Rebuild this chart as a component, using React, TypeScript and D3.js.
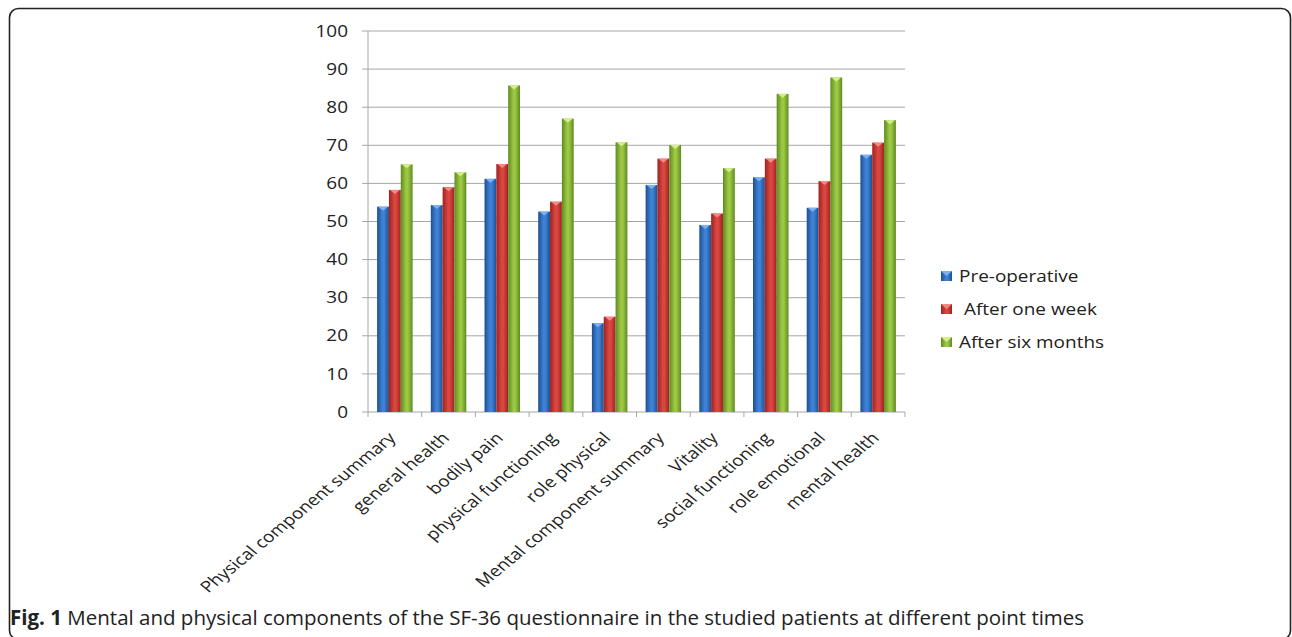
import React from "react";
import * as d3 from "d3";

const categories = [
  "Physical component summary",
  "general health",
  "bodily pain",
  "physical functioning",
  "role physical",
  "Mental component summary",
  "Vitality",
  "social functioning",
  "role emotional",
  "mental health",
];
const seriesNames = ["Pre-operative", " After one week", "After six months"];
const preOperative = [53.9, 54.3, 61.2, 52.6, 23.3, 59.6, 49.1, 61.6, 53.6, 67.5];
const afterOneWeek = [58.3, 59.0, 65.1, 55.2, 25.0, 66.5, 52.1, 66.5, 60.6, 70.7];
const afterSixMonths = [65.0, 62.9, 85.7, 77.0, 70.8, 70.1, 64.0, 83.5, 87.8, 76.6];
const yTicks = [0, 10, 20, 30, 40, 50, 60, 70, 80, 90, 100];

const W = 1292;
const H = 637;
const plot = { left: 368, right: 905, top: 31, bottom: 412 };

const palettes = [
  { edge: "#1d4f93", mid: "#3f82d4", cap: "#7fb2ec" },
  { edge: "#9c2222", mid: "#d9473f", cap: "#f08a82" },
  { edge: "#5f8a22", mid: "#9cc843", cap: "#d3ee8a" },
];

export default function App() {
  const series = [preOperative, afterOneWeek, afterSixMonths];
  const x0 = d3.scaleBand<string>().domain(categories).range([plot.left, plot.right]).paddingInner(0).paddingOuter(0);
  const groupW = 35.5;
  const x1 = d3.scaleBand<number>().domain([0, 1, 2]).range([0, groupW]).padding(0);
  const y = d3.scaleLinear().domain([0, 100]).range([plot.bottom, plot.top]);
  const font = "'Open Sans', 'DejaVu Sans', sans-serif";
  const fs = 16.2;
  const sx = 1.17;

  return (
    <svg width={W} height={H} style={{ position: "absolute", left: 0, top: 0, background: "#fff" }} fontFamily={font}>
      <defs>
        {palettes.map((p, i) => (
          <linearGradient key={i} id={`g${i}`} x1="0" x2="1" y1="0" y2="0">
            <stop offset="0" stopColor={p.edge} />
            <stop offset="0.45" stopColor={p.mid} />
            <stop offset="0.6" stopColor={p.mid} />
            <stop offset="1" stopColor={p.edge} />
          </linearGradient>
        ))}
      </defs>
      <rect x={9.5} y={8.5} width={1281} height={631} rx={9} fill="none" stroke="#222" strokeWidth={1.6} />

      {yTicks.map((t) => (
        <g key={t}>
          {t > 0 && <line x1={plot.left} x2={plot.right} y1={y(t)} y2={y(t)} stroke="#a6a6a6" strokeWidth={1} />}
          <line x1={plot.left - 6} x2={plot.left} y1={y(t)} y2={y(t)} stroke="#a6a6a6" strokeWidth={1} />
          <text
            transform={`translate(348 ${y(t)}) scale(${sx} 1)`}
            dy="0.35em"
            textAnchor="end"
            fontSize={fs}
            fill="#222"
          >
            {t}
          </text>
        </g>
      ))}
      <line x1={plot.left} x2={plot.left} y1={plot.top} y2={plot.bottom} stroke="#a6a6a6" />
      <line x1={plot.left} x2={plot.right} y1={plot.bottom} y2={plot.bottom} stroke="#a6a6a6" />
      {categories.map((c) => (
        <line key={c} x1={x0(c)!} x2={x0(c)!} y1={plot.bottom} y2={plot.bottom + 5} stroke="#a6a6a6" />
      ))}
      <line x1={plot.right} x2={plot.right} y1={plot.bottom} y2={plot.bottom + 5} stroke="#a6a6a6" />

      {categories.map((c, i) => {
        const gx = x0(c)! + (x0.bandwidth() - groupW) / 2;
        return (
          <g key={c}>
            {series.map((s, si) => {
              const bx = gx + x1(si)!;
              const bw = x1.bandwidth();
              const top = y(s[i]);
              return (
                <g key={si}>
                  <rect x={bx} y={top} width={bw} height={plot.bottom - top} fill={`url(#g${si})`} />
                  <polygon
                    points={`${bx + 1},${top} ${bx + bw - 1},${top} ${bx + bw / 2},${top + 4}`}
                    fill={palettes[si].cap}
                  />
                </g>
              );
            })}
          </g>
        );
      })}

      {categories.map((c) => {
        const cx = x0(c)! + x0.bandwidth() / 2 + 2;
        const cy = plot.bottom + 27;
        return (
          <text
            key={c}
            textAnchor="end"
            fontSize={15.6}
            fill="#222"
            transform={`translate(${cx} ${cy}) scale(1.22 1) rotate(-45)`}
          >
            {c}
          </text>
        );
      })}

      {seriesNames.map((n, i) => {
        const ly = 276 + i * 33;
        return (
          <g key={n}>
            <rect x={941} y={ly - 5} width={11} height={10} fill={`url(#g${i})`} />
            <polygon points={`${941},${ly - 5} ${952},${ly - 5} ${946.5},${ly}`} fill={palettes[i].cap} />
            <text
              transform={`translate(959 ${ly}) scale(${sx} 1)`}
              dy="0.35em"
              fontSize={fs}
              fill="#222"
              style={{ whiteSpace: "pre" }}
            >
              {n}
            </text>
          </g>
        );
      })}

      <text x={10} y={625} fontSize={20.5} fill="#222" fontFamily="'Open Sans', sans-serif">
        <tspan fontWeight="bold">Fig. 1</tspan>
        <tspan> Mental and physical components of the SF-36 questionnaire in the studied patients at different point times</tspan>
      </text>
    </svg>
  );
}
